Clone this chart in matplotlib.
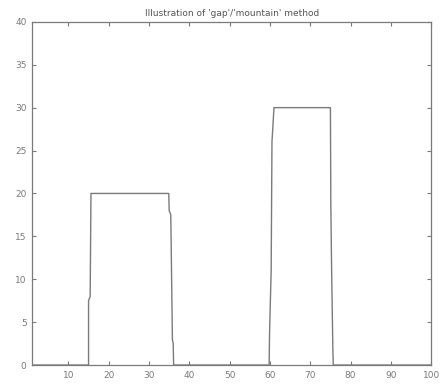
import matplotlib
matplotlib.use("Agg")
import matplotlib.pyplot as plt

# signal (x = sample index, y = height)
x_vals = [1, 15, 15, 15.4, 15.6, 34.9, 35.0, 35.4, 35.8, 36.0, 36.1,
          59.8, 59.9, 60.3, 60.5, 61.0, 75.0, 75.1, 75.3, 75.6, 75.7, 100]
y_vals = [0, 0, 7.5, 8.0, 20.0, 20.0, 18.0, 17.5, 3.0, 2.5, 0,
          0, 3.7, 11.0, 26.0, 30.0, 30.0, 18.7, 11.0, 2.0, 0, 0]

x_ticks = [10, 20, 30, 40, 50, 60, 70, 80, 90, 100]
y_ticks = [0, 5, 10, 15, 20, 25, 30, 35, 40]
title = "Illustration of 'gap'/'mountain' method"

gray = "#7a7a7a"

fig = plt.figure(figsize=(4.4, 3.9), dpi=100)
ax = fig.add_axes([0.073, 0.064, 0.907, 0.88])

ax.plot(x_vals, y_vals, color=gray, linewidth=1.0)

ax.set_xlim(1, 100)
ax.set_ylim(0, 40)
ax.set_xticks(x_ticks)
ax.set_yticks(y_ticks)
ax.tick_params(direction="in", top=True, right=True, length=3,
               labelsize=6.5, colors=gray, width=0.8, pad=4)
for sp in ax.spines.values():
    sp.set_color(gray)
    sp.set_linewidth(0.9)

ax.set_title(title, fontsize=6.5, color="#555555", pad=4)

fig.savefig("out.png", dpi=100)
